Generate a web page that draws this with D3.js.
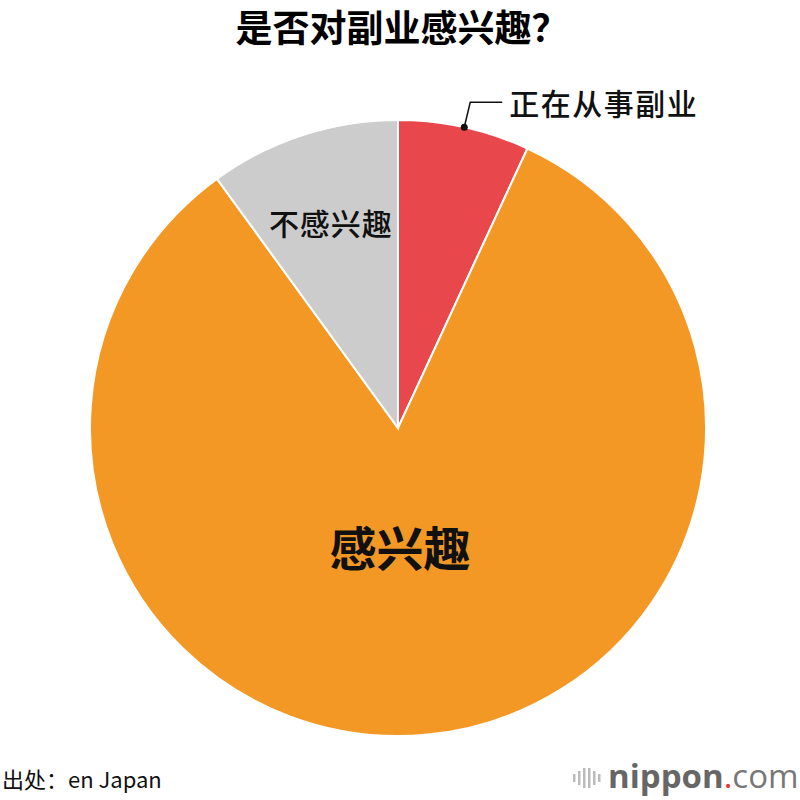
<!DOCTYPE html>
<html><head><meta charset="utf-8">
<script src="https://cdn.jsdelivr.net/npm/d3@7"></script>
<style>body{margin:0;background:#fff}</style>
</head><body>
<script>
const categories = ["正在从事副业", "感兴趣", "不感兴趣"];
const values = [6.9, 83.1, 10.0];
const colors = ["#e8474b", "#f39824", "#cccccc"];
const title = "是否对副业感兴趣？";
const source = "出处：en Japan";

const W = 800, H = 800, cx = 398, cy = 428, R = 308;
const font = "'Noto Sans CJK SC','Noto Sans',sans-serif";
const svg = d3.select("body").append("svg").attr("width", W).attr("height", H);

svg.append("text").attr("x", 402).attr("y", 42).attr("text-anchor", "middle")
  .attr("font-family", font).attr("font-weight", 700).attr("font-size", 37).text(title);

const data = categories.map((c, i) => ({c, v: values[i], col: colors[i]}));
const pie = d3.pie().sort(null).value(d => d.v);
const arcs = pie(data);
const arc = d3.arc().innerRadius(0).outerRadius(R);
const g = svg.append("g").attr("transform", `translate(${cx},${cy})`);
g.selectAll("path").data(arcs).join("path").attr("d", arc)
  .attr("fill", d => d.data.col).attr("stroke", "#fff").attr("stroke-width", 2);

// label for small red slice with leader
const a0 = arcs[0];
const mid = (a0.startAngle + a0.endAngle) / 2;
const px = Math.sin(mid) * R, py = -Math.cos(mid) * R;
g.append("circle").attr("cx", px).attr("cy", py).attr("r", 3.5).attr("fill", "#111");
g.append("path").attr("d", `M${px},${py} L${px + 6},${py - 25} L${px + 38},${py - 25}`)
  .attr("fill", "none").attr("stroke", "#111").attr("stroke-width", 1.5);
g.append("text").attr("x", px + 45).attr("y", py - 12).attr("font-family", font).attr("font-weight", 500)
  .attr("font-size", 30).attr("letter-spacing", 1.5).attr("fill", "#111").text(categories[0]);

// inside labels
const a2 = arcs[2];
const m2 = (a2.startAngle + a2.endAngle) / 2;
g.append("text").attr("x", Math.sin(m2) * 214 - 1).attr("y", -Math.cos(m2) * 214 + 11)
  .attr("text-anchor", "middle").attr("font-family", font).attr("font-weight", 500).attr("font-size", 30).attr("letter-spacing", 1)
  .attr("fill", "#111").text(categories[2]);
g.append("text").attr("x", 2).attr("y", 138)
  .attr("text-anchor", "middle").attr("font-family", font).attr("font-weight", 700).attr("font-size", 47)
  .attr("fill", "#111").text(categories[1]);

svg.append("text").attr("x", 2).attr("y", 788).attr("font-family", font).attr("font-size", 22)
  .attr("fill", "#111").text(source);

// logo
const lg = svg.append("g");
const bars = [[573, 8], [578, 14], [583, 20], [588, 20], [593, 14], [598, 8]];
bars.forEach(([x, h]) => lg.append("rect").attr("x", x).attr("y", 778 - h / 2).attr("width", 2.5).attr("height", h).attr("fill", "#bbb"));
const t = lg.append("text").attr("x", 608).attr("y", 788).attr("font-family", "'Open Sans',sans-serif").attr("font-size", 33).attr("fill", "#666");
t.append("tspan").attr("font-weight", 700).text("nippon");
t.append("tspan").attr("fill", "#e33").text(".");
t.append("tspan").attr("font-weight", 400).attr("fill", "#777").text("com");
</script>
</body></html>
